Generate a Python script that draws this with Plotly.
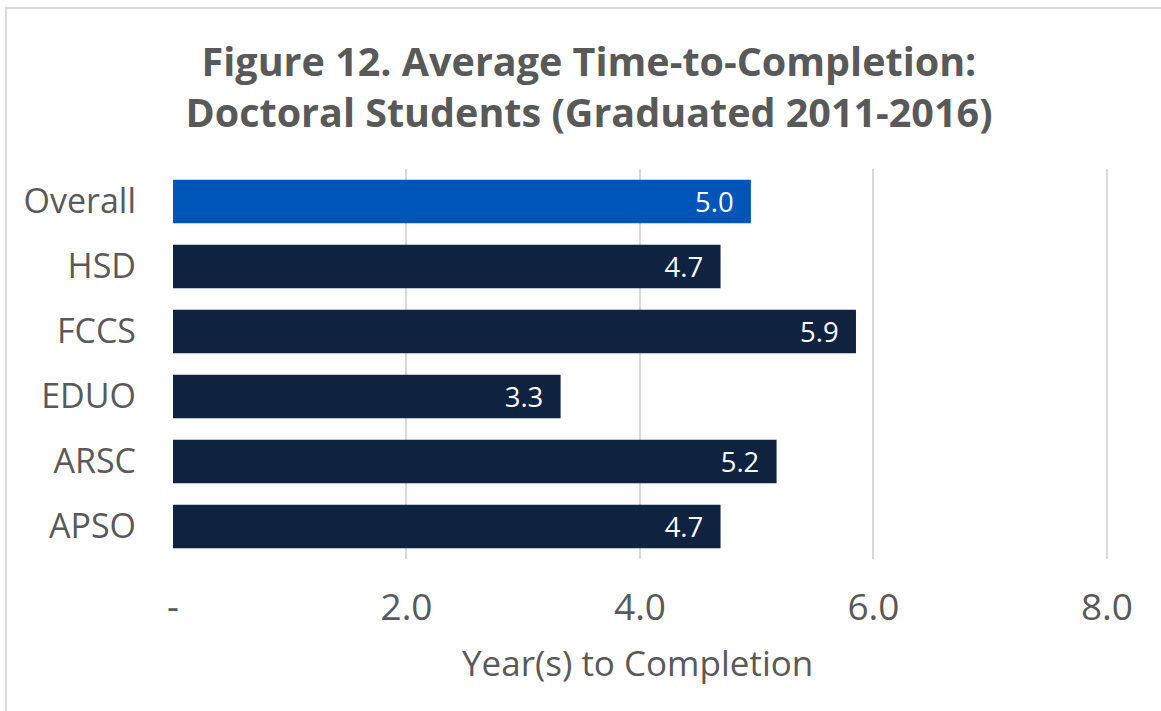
import plotly.graph_objects as go

categories = ["Overall", "HSD", "FCCS", "EDUO", "ARSC", "APSO"]
years = [4.95, 4.69, 5.85, 3.32, 5.17, 4.69]
labels = ["5.0", "4.7", "5.9", "3.3", "5.2", "4.7"]
tick_vals = [0, 2, 4, 6, 8]
tick_text = ["-", "2.0", "4.0", "6.0", "8.0"]

colors = ["#0055B8"] + ["#0F2341"] * (len(categories) - 1)

W, H = 1161, 711
XMAX = 8.3
L, T, B = 173, 169, 559
R = L + 116.75 * XMAX
FONT = "Open Sans"

fig = go.Figure(go.Bar(
    x=years, y=categories, orientation="h",
    marker=dict(color=colors, line=dict(width=0)),
    text=labels, texttemplate="%{text}&nbsp;&nbsp;",
    textposition="inside", insidetextanchor="end",
    textfont=dict(family=FONT, size=30, color="white"),
    width=0.67,
))

pw, ph = R - L, B - T
def px_x(p):
    return (p - L) / pw
def px_y(p):
    return (B - p) / ph

fig.update_layout(
    width=W, height=H,
    margin=dict(l=L, r=W - R, t=T, b=H - B),
    paper_bgcolor="white", plot_bgcolor="white",
    showlegend=False,
    title=dict(
        text="Figure 12. Average Time-to-Completion:<br>Doctoral Students (Graduated 2011-2016)",
        x=589 / W, xanchor="center", y=1 - 76 / H, yanchor="middle",
        font=dict(family=FONT, size=39.5, color="#595959", weight="bold"),
    ),
    xaxis=dict(
        range=[0, XMAX], tickvals=tick_vals, ticktext=tick_text,
        showgrid=True, gridcolor="#D9D9D9", gridwidth=2,
        zeroline=False, showline=False,
        tickfont=dict(family=FONT, size=37, color="#595959"),
        ticklabelstandoff=23,
    ),
    yaxis=dict(
        categoryorder="array", categoryarray=categories, autorange="reversed",
        showgrid=False, zeroline=False, showline=False,
        tickfont=dict(family=FONT, size=34, color="#595959"),
        ticklabelstandoff=36,
    ),
    annotations=[dict(
        text="Year(s) to Completion", xref="paper", yref="paper",
        x=px_x(638), y=px_y(662), xanchor="center", yanchor="middle",
        showarrow=False, font=dict(family=FONT, size=35, color="#595959"),
    )],
    shapes=[dict(
        type="rect", xref="paper", yref="paper",
        x0=px_x(6), x1=px_x(1180), y0=px_y(730), y1=px_y(8),
        line=dict(color="#D9D9D9", width=2), fillcolor="rgba(0,0,0,0)",
        layer="below",
    )],
)

fig.write_html(
    "out.html",
    config={"displayModeBar": False},
    post_script="document.body.style.margin='0';document.body.style.overflow='hidden';",
)
